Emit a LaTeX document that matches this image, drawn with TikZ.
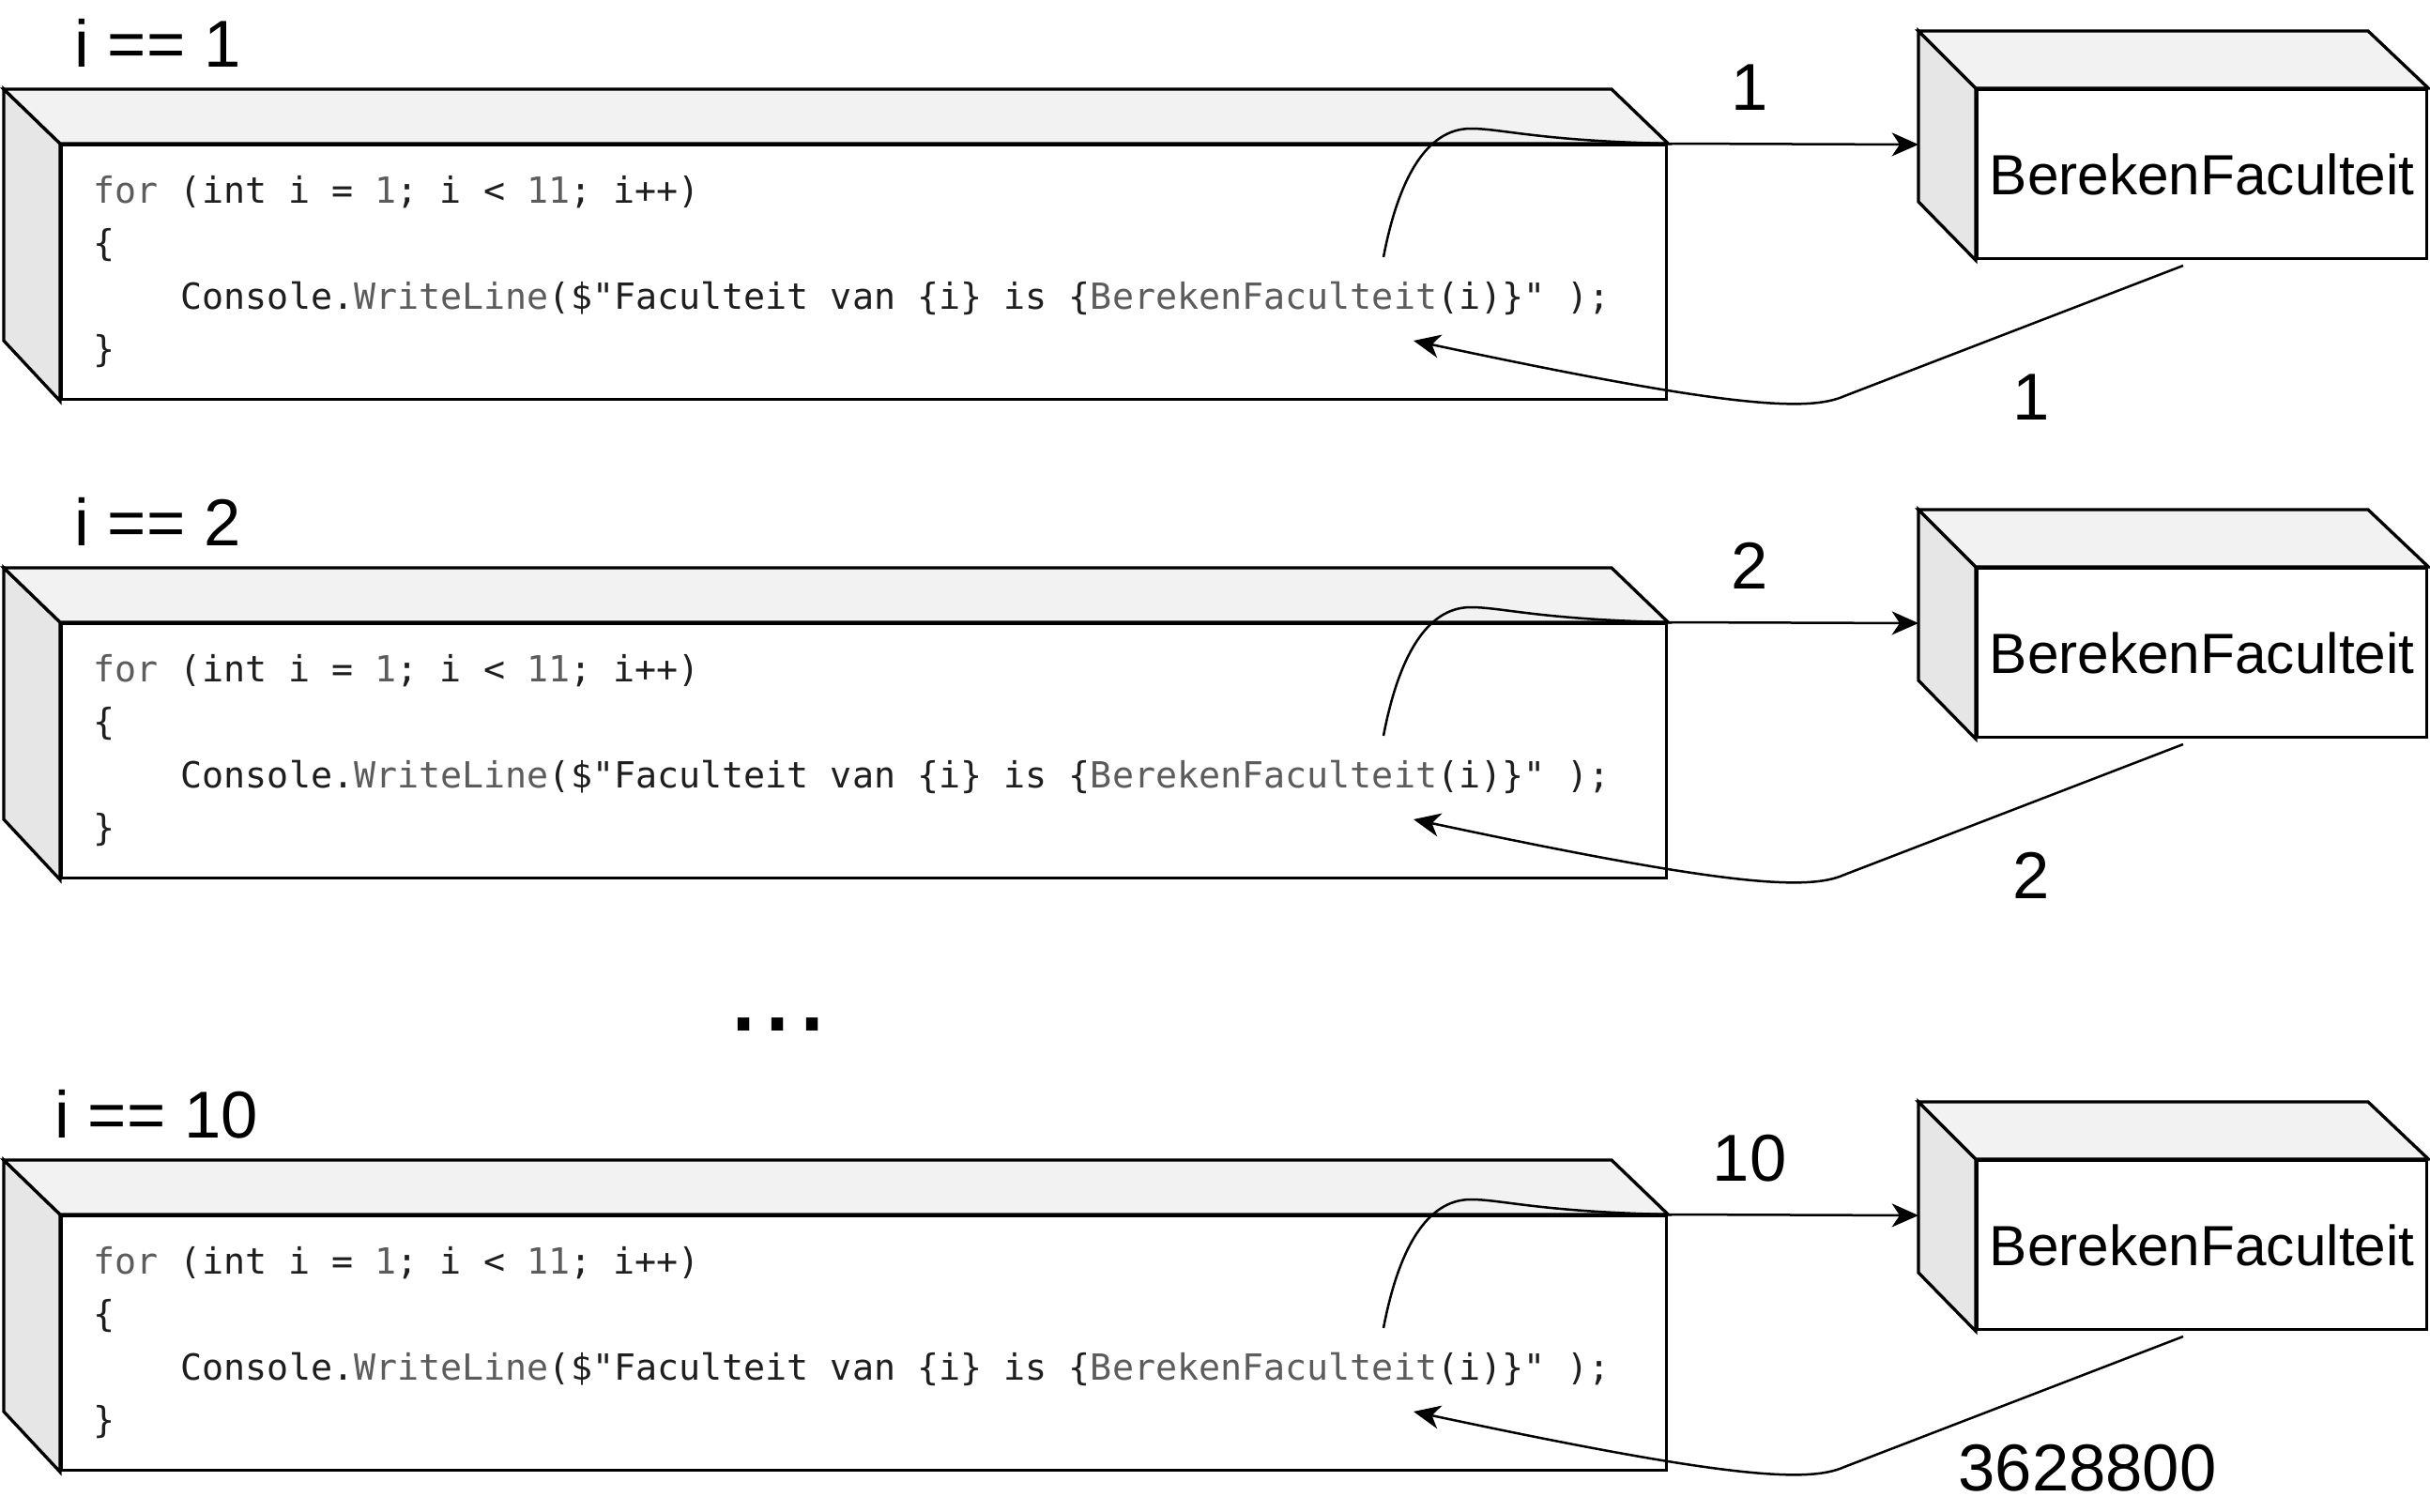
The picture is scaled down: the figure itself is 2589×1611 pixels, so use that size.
\documentclass[tikz,border=0pt]{standalone}
\usepackage{fontspec}
\setmainfont{Liberation Sans}
\setmonofont{DejaVu Sans Mono}
\usetikzlibrary{arrows.meta}
\definecolor{topface}{HTML}{F2F2F2}
\definecolor{sideface}{HTML}{E6E6E6}
\definecolor{codegray}{HTML}{5C5C5C}
\definecolor{codeblack}{HTML}{1E1E1E}
\newcommand{\kw}[1]{\textcolor{codegray}{#1}}
\begin{document}
\begin{tikzpicture}[x=0.3pt,y=-0.3pt,
  face/.style={draw=black, line width=1pt, line join=miter},
  codeline/.style={anchor=base west, inner sep=0pt, font=\fontsize{11.5}{14}\selectfont\ttfamily, text=codeblack},
  biglabel/.style={inner sep=0pt, font=\fontsize{21.2}{25}\selectfont},
  boxtext/.style={inner sep=0pt, font=\fontsize{18.1}{22}\selectfont},
  conn/.style={line width=0.75pt, -{Stealth[length=8.5pt,width=7.5pt,inset=2.5pt]}},
]
\useasboundingbox (0,0) rectangle (2589,1611);
\foreach \n/\dy/\lab/\labx/\inl/\outl/\outx in {1/0/{i == 1}/79/1/1/2164, 2/510/{i == 2}/79/2/2/2164, 3/1141/{i == 10}/58/10/3628800/2224}{
  % code cube
  \node[face, fill=white, minimum width=513pt, minimum height=81.3pt, anchor=north west, inner sep=0pt] (code\n) at (64,153+\dy) {};
  \draw[face, fill=sideface] (code\n.north west) -- ++(-60,-58) -- ++(0,268) -- (code\n.south west) -- cycle;
  \draw[face, fill=topface] (code\n.north west) -- ++(-60,-58) -- ++(1713,0) -- (code\n.north east) -- cycle;
  \node[codeline] (la\n) at (99,216+\dy) {\kw{for} (int i = \kw{1}; i < \kw{11}; i++)};
  \node[codeline] (lb\n) at (99,272.5+\dy) {\{};
  \node[codeline] (lc\n) at (192,329+\dy) {Console.\kw{WriteLine}(\$"Faculteit van \{i\} is \{\kw{BerekenFaculteit}(i)\}" );};
  \node[codeline] (ld\n) at (99,385.5+\dy) {\}};
  % function cube
  \node[face, fill=white, boxtext, minimum width=143.7pt, minimum height=54pt, anchor=north west] (fb\n) at (2105,94+\dy) {BerekenFaculteit};
  \draw[face, fill=sideface] (fb\n.north west) -- ++(-61,-61) -- ++(0,182) -- (fb\n.south west) -- cycle;
  \draw[face, fill=topface] (fb\n.north west) -- ++(-61,-61) -- ++(479,0) -- (fb\n.north east) -- cycle;
  % labels
  \node[biglabel, anchor=west] (lab\n) at (\labx,46+\dy) {\lab};
  \node[biglabel] (inl\n) at (1864,93+\dy) {\inl};
  \node[biglabel] (outl\n) at (\outx,423+\dy) {\outl};
  % connectors
  \coordinate (s\n) at (1474,274+\dy);
  \coordinate (in\n) at (2044,154+\dy);
  \coordinate (r\n) at (2326,283+\dy);
  \coordinate (t\n) at (1506,363+\dy);
  \draw[conn] (s\n) .. controls (1490,190+\dy) and (1520,137+\dy) .. (1567,137+\dy)
     .. controls (1600,137+\dy) and (1640,150+\dy) .. (code\n.north east) -- (in\n);
  \draw[conn] (r\n) -- (1965,422+\dy) .. controls (1925,440+\dy) and (1830,432+\dy) .. (t\n);
}
\node[inner sep=0pt, font=\fontsize{39}{40}\selectfont] (dots) at (829,1092) {...};
\end{tikzpicture}
\end{document}
